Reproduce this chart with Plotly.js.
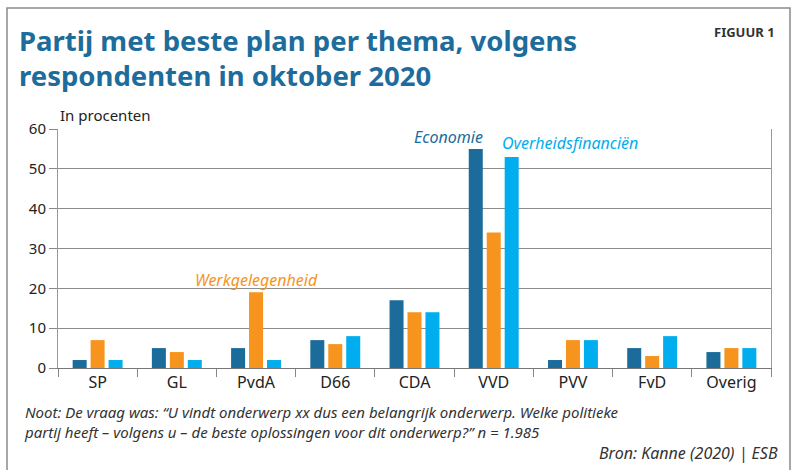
<!DOCTYPE html>
<html>
<head>
<meta charset="utf-8">
<script src="https://cdn.plot.ly/plotly-3.0.1.min.js"></script>
<style>
  body { margin: 0; background: #fff; }
  #chart { width: 792px; height: 470px; }
</style>
</head>
<body>
<div id="chart"></div>
<script>
// Partijen en scores per thema (in procenten)
const partijen = ['SP', 'GL', 'PvdA', 'D66', 'CDA', 'VVD', 'PVV', 'FvD', 'Overig'];
const economie = [2, 5, 5, 7, 17, 55, 2, 5, 4];
const werkgelegenheid = [7, 4, 19, 6, 14, 34, 7, 3, 5];
const overheidsfinancien = [2, 2, 2, 8, 14, 53, 7, 8, 5];
const yTicks = [0, 10, 20, 30, 40, 50, 60];

const donkerblauw = '#1b6b9b';
const oranje = '#f7941d';
const lichtblauw = '#00adee';
const sans = '"Noto Sans", sans-serif';

// pixel -> paper helpers (plot area: x 58..771, y 129..368)
const px = x => (x - 58) / 713;
const py = y => (368 - y) / 239;

const bar = (y, name, color) => ({
  type: 'bar',
  x: partijen,
  y: y,
  name: name,
  marker: { color: color },
  hoverinfo: 'y'
});

const data = [
  bar(economie, 'Economie', donkerblauw),
  bar(werkgelegenheid, 'Werkgelegenheid', oranje),
  bar(overheidsfinancien, 'Overheidsfinanciën', lichtblauw)
];

const titleFont = { family: sans, size: 27.5, color: '#1d6c9c', weight: 'bold' };

const layout = {
  width: 792,
  height: 470,
  margin: { l: 58, r: 21, t: 129, b: 102 },
  paper_bgcolor: '#fff',
  plot_bgcolor: '#fff',
  showlegend: false,
  barmode: 'group',
  bargap: 0.32,
  bargroupgap: 0.22,
  xaxis: {
    type: 'category',
    showgrid: false,
    showline: true,
    linecolor: '#777',
    linewidth: 1,
    ticks: 'outside',
    tickson: 'boundaries',
    ticklen: 8,
    tickcolor: '#888',
    tickfont: { family: sans, size: 16, color: '#222' },
    fixedrange: true
  },
  yaxis: {
    range: [0, 60],
    tickvals: yTicks,
    showgrid: true,
    gridcolor: '#8c8c8c',
    gridwidth: 1,
    zeroline: false,
    showline: true,
    mirror: true,
    linecolor: '#999',
    ticks: 'outside',
    ticklen: 8,
    tickcolor: '#888',
    tickfont: { family: sans, size: 15, color: '#222' },
    fixedrange: true
  },
  shapes: [{
    type: 'rect', xref: 'paper', yref: 'paper',
    x0: px(7), x1: px(790), y0: py(480), y1: py(8),
    line: { color: '#8a8a8a', width: 1.5 }
  }],
  annotations: [
    { text: 'Partij met beste plan per thema, volgens', xref: 'paper', yref: 'paper',
      x: px(17), y: py(40), xanchor: 'left', yanchor: 'middle', showarrow: false, font: titleFont },
    { text: 'respondenten in oktober 2020', xref: 'paper', yref: 'paper',
      x: px(17), y: py(75), xanchor: 'left', yanchor: 'middle', showarrow: false, font: titleFont },
    { text: 'FIGUUR 1', xref: 'paper', yref: 'paper', x: px(777), y: py(32),
      xanchor: 'right', yanchor: 'middle', showarrow: false,
      font: { family: sans, size: 13, color: '#333', weight: 'bold' } },
    { text: 'In procenten', xref: 'paper', yref: 'paper', x: 0, y: py(115),
      xanchor: 'left', yanchor: 'middle', showarrow: false,
      font: { family: sans, size: 15, color: '#222' } },
    { text: '<i>Economie</i>', x: 'VVD', y: 58, xshift: -45, showarrow: false,
      font: { family: sans, size: 16, color: donkerblauw } },
    { text: '<i>Overheidsfinanciën</i>', x: 'VVD', y: 56.4, xshift: 76, showarrow: false,
      font: { family: sans, size: 16, color: lichtblauw } },
    { text: '<i>Werkgelegenheid</i>', x: 'PvdA', y: 22, showarrow: false,
      font: { family: sans, size: 16, color: oranje } },
    { text: '<i>Noot: De vraag was: \u201cU vindt onderwerp xx dus een belangrijk onderwerp. Welke politieke<br>partij heeft \u2013 volgens u \u2013 de beste oplossingen voor dit onderwerp?\u201d n = 1.985</i>',
      xref: 'paper', yref: 'paper', x: px(22), y: py(400),
      xanchor: 'left', yanchor: 'top', align: 'left', showarrow: false,
      font: { family: sans, size: 15, color: '#333' } },
    { text: '<i>Bron: Kanne (2020) | ESB</i>', xref: 'paper', yref: 'paper',
      x: px(780), y: py(453), xanchor: 'right', yanchor: 'middle', showarrow: false,
      font: { family: sans, size: 16, color: '#333' } }
  ]
};

Plotly.newPlot('chart', data, layout, { displayModeBar: false, staticPlot: true });
</script>
</body>
</html>
